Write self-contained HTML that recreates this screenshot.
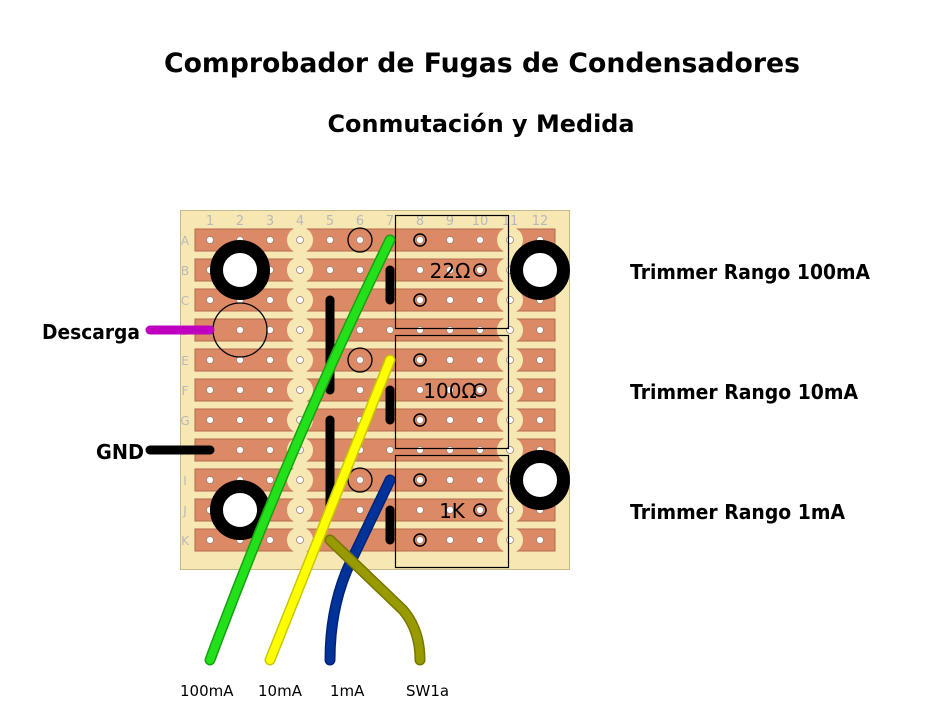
<!DOCTYPE html>
<html><head><meta charset="utf-8"><style>
body{margin:0;background:#fff;}
svg{display:block;}
</style></head><body>
<svg id="s" width="943" height="706" xmlns="http://www.w3.org/2000/svg" font-family="'DejaVu Sans', 'Liberation Sans', sans-serif">
<rect width="943" height="706" fill="#fff"/>
<text x="482" y="72" text-anchor="middle" font-size="27" font-weight="bold" textLength="636" lengthAdjust="spacingAndGlyphs">Comprobador de Fugas de Condensadores</text>
<text x="481" y="132" text-anchor="middle" font-size="24" font-weight="bold" textLength="307" lengthAdjust="spacingAndGlyphs">Conmutación y Medida</text>
<rect x="180.5" y="210.5" width="389" height="359" fill="#f7e8b3" stroke="#c8b98a"/>
<g id="board"></g>
<g font-size="20" font-weight="bold">
<text x="630" y="279" textLength="240" lengthAdjust="spacingAndGlyphs">Trimmer Rango 100mA</text>
<text x="630" y="399" textLength="228" lengthAdjust="spacingAndGlyphs">Trimmer Rango 10mA</text>
<text x="630" y="519" textLength="215" lengthAdjust="spacingAndGlyphs">Trimmer Rango 1mA</text>
<text x="42" y="339" textLength="98" lengthAdjust="spacingAndGlyphs">Descarga</text>
<text x="96" y="459" textLength="48" lengthAdjust="spacingAndGlyphs">GND</text>
</g>
<g font-size="15">
<text x="180" y="696">100mA</text>
<text x="258" y="696">10mA</text>
<text x="330" y="696">1mA</text>
<text x="406" y="696">SW1a</text>
</g>
</svg>
<script>
var g=document.getElementById('board'),h='';
var rows='ABCDEFGHIJK';
for(var c=1;c<=12;c++){h+='<text x="'+(180+30*c)+'" y="225" text-anchor="middle" font-size="13" fill="#b8b8b8">'+c+'</text>';}
for(var r=0;r<11;r++){var y=240+30*r;
h+='<text x="185" y="'+(y+5)+'" text-anchor="middle" font-size="12" fill="#b8b8b8">'+rows[r]+'</text>';
h+='<rect x="195" y="'+(y-11)+'" width="360" height="22" fill="#dc8a66" stroke="#b06a4e" stroke-width="1"/>';
h+='<circle cx="300" cy="'+y+'" r="13" fill="#f7e8b3"/><circle cx="510" cy="'+y+'" r="13" fill="#f7e8b3"/>';
for(var c=1;c<=12;c++){h+='<circle cx="'+(180+30*c)+'" cy="'+y+'" r="3.5" fill="#fff" stroke="#a08070" stroke-width="0.8"/>';}}
[[215,328],[335,448],[455,567]].forEach(function(b){h+='<rect x="395.5" y="'+b[0]+'.5" width="113" height="'+(b[1]-b[0])+'" fill="none" stroke="#000" stroke-width="1.2"/>';});
[[420,240],[480,270],[420,300],[420,360],[480,390],[420,420],[420,480],[480,510],[420,540]].forEach(function(p){h+='<circle cx="'+p[0]+'" cy="'+p[1]+'" r="6" fill="none" stroke="#000" stroke-width="1.5"/>';});
[[360,240],[360,360],[360,480]].forEach(function(p){h+='<circle cx="'+p[0]+'" cy="'+p[1]+'" r="12" fill="none" stroke="#000" stroke-width="1.3"/>';});
h+='<circle cx="240" cy="330" r="27" fill="none" stroke="#000" stroke-width="1.3"/>';
h+='<text x="450" y="278" text-anchor="middle" font-size="20">22Ω</text><text x="450" y="398" text-anchor="middle" font-size="20">100Ω</text><text x="452" y="518" text-anchor="middle" font-size="20">1K</text>';
[[240,270],[540,270],[240,510],[540,480]].forEach(function(p){h+='<circle cx="'+p[0]+'" cy="'+p[1]+'" r="23.5" fill="#fff" stroke="#000" stroke-width="13"/>';});
[[390,270,390,300],[390,390,390,420],[390,510,390,540],[330,300,330,390],[330,420,330,510],[150,450,210,450]].forEach(function(l){h+='<line x1="'+l[0]+'" y1="'+l[1]+'" x2="'+l[2]+'" y2="'+l[3]+'" stroke="#000" stroke-width="9" stroke-linecap="round"/>';});
h+='<line x1="150" y1="330" x2="210" y2="330" stroke="#c000c0" stroke-width="9" stroke-linecap="round"/>';
function w(d,col,edge){h+='<path d="'+d+'" fill="none" stroke="'+edge+'" stroke-width="11" stroke-linecap="round"/><path d="'+d+'" fill="none" stroke="'+col+'" stroke-width="8" stroke-linecap="round"/>';}
w('M390,240 Q292,440 210,660','#22e01a','#18a012');
w('M390,360 L270,660','#ffff00','#c8c800');
w('M390,480 L355,553 Q330,600 330,660','#003399','#002277');
w('M330,540 L403,610 Q420,630 420,660','#999900','#777700');
g.innerHTML=h;
</script>
</body></html>
